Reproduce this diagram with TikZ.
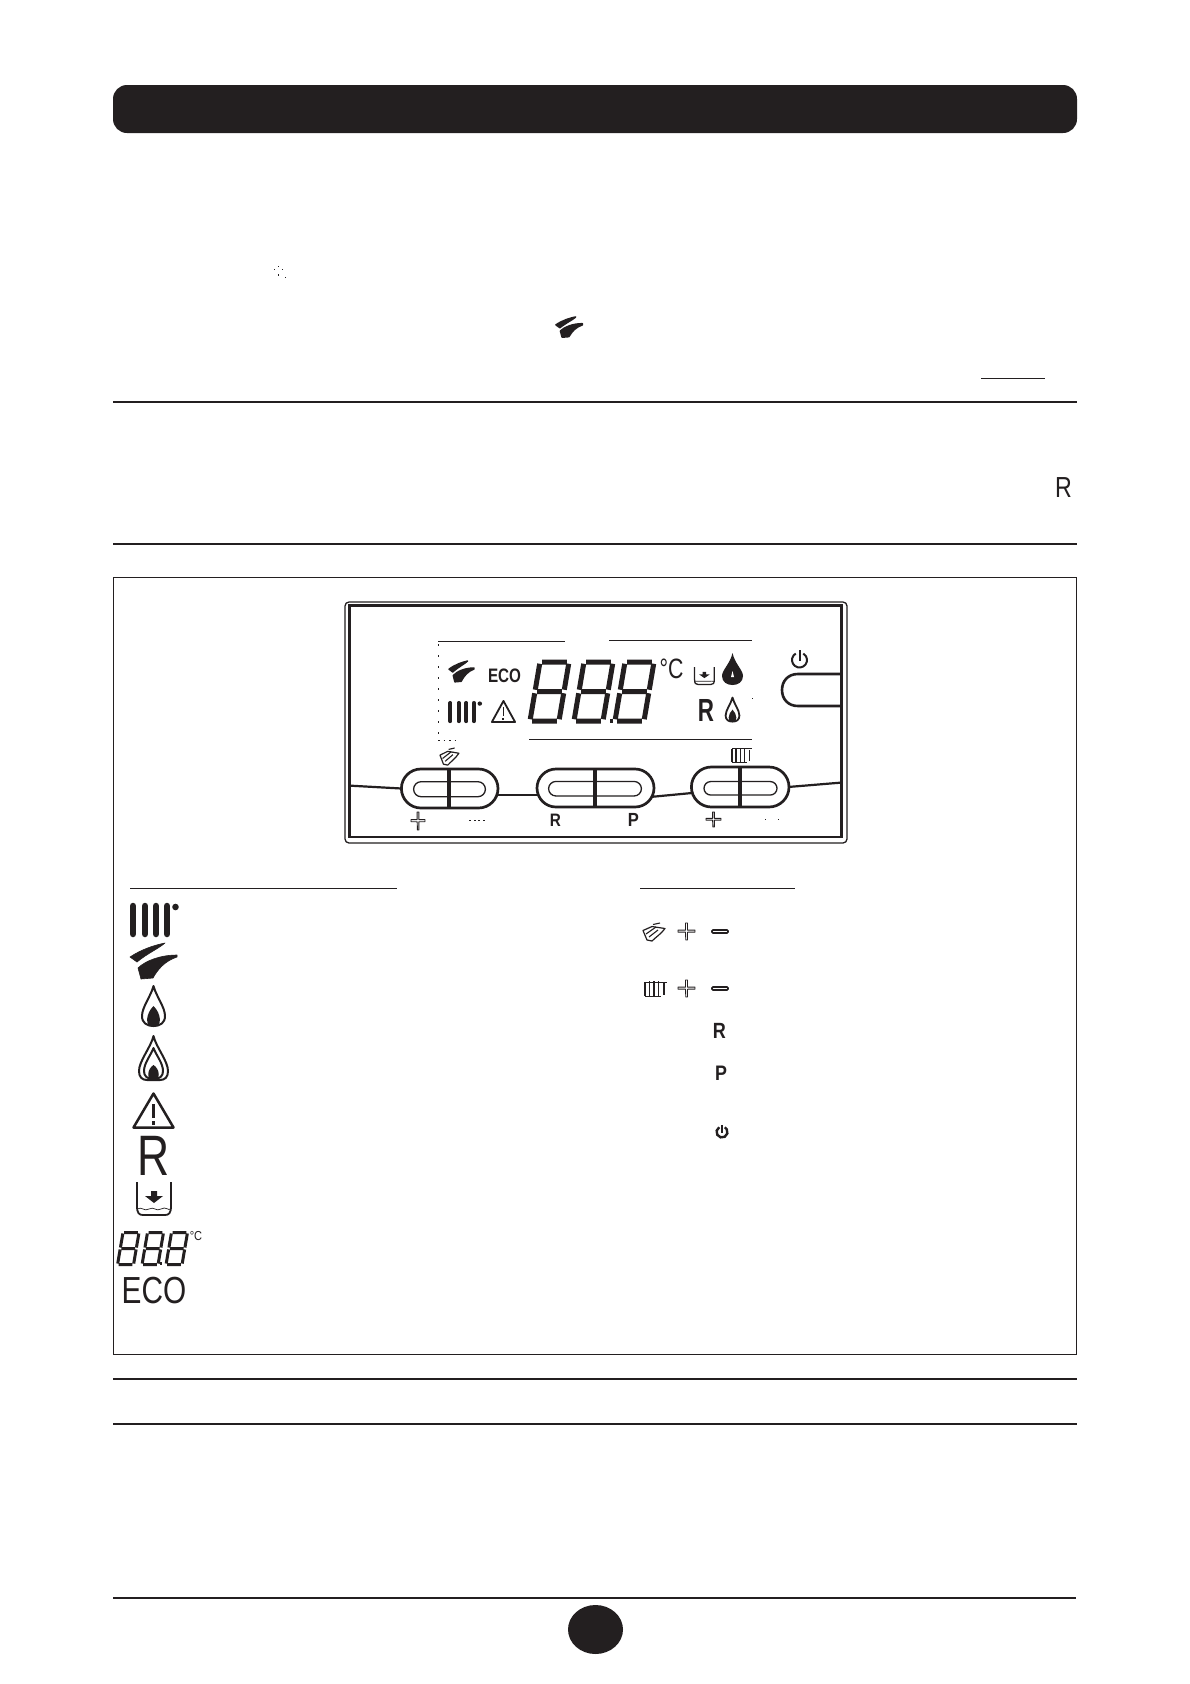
\documentclass[tikz,border=0pt]{standalone}
\usepackage{fontspec}
\setmainfont{Liberation Sans}
\usetikzlibrary{shapes.misc}
\definecolor{ink}{HTML}{231F20}
\newcommand{\fs}[1]{\fontsize{#1}{#1}\selectfont}
\tikzset{
  rule/.style={draw=ink,line width=2.2pt},
  glyph/.style={inner sep=0pt,outer sep=0pt,text=ink},
  rockerout/.style={rounded rectangle,draw=ink,line width=2.7pt,inner sep=0pt,outer sep=0pt},
  rockerin/.style={rounded rectangle,draw=ink,line width=1.3pt,inner sep=0pt,outer sep=0pt},
  wire/.style={draw=ink,line width=2.2pt},
  lcd/.style={draw=ink,line width=1pt},
  seg/.style={draw=ink,line cap=butt},
}
% solid radiator: local box 51x34
\newcommand{\radsolid}[5]{\begin{scope}[shift={(#1,#2)},xscale=#3,yscale=#4]
  \foreach \xx in {5,17,28,39}{\draw[ink,line width=#5,line cap=round] (\xx,3)--(\xx,31);}
  \fill[ink] (47.5,4) ellipse (3.3 and 3.3);
\end{scope}}
% solid tap flame: local box 47x36; last argument thickens it
\newcommand{\tapsolid}[5]{\begin{scope}[shift={(#1,#2)},xscale=#3,yscale=#4]
  \filldraw[ink,line width=#5,line join=round] (0,14) .. controls (12,6) and (25,2) .. (35,0) .. controls (28,6) and (18,10) .. (7,19) -- cycle;
  \filldraw[ink,line width=#5,line join=round] (47,12) .. controls (30,12) and (15,18) .. (8,25) -- (11,36) -- (23,35) .. controls (28,26) and (35,18) .. (47,14) -- cycle;
\end{scope}}
% outline tap: local box 22x18
\newcommand{\tapline}[4]{\begin{scope}[shift={(#1,#2)},xscale=#3,yscale=#4]
  \draw[ink,line width=1.2pt,line join=round] (0,7.5) -- (9,3.5) -- (22,5.5) .. controls (18,11) and (13,14) .. (9,18) -- (4,17) -- cycle;
  \draw[ink,line width=1.1pt] (3,11) -- (13,4) (6,14) -- (15,7) (10,1.5) -- (17,0);
\end{scope}}
% flame 1: local box 25x42
\newcommand{\flameone}[5]{\begin{scope}[shift={(#1,#2)},xscale=#3,yscale=#4]
  \draw[ink,line width=#5,line join=round] (12.5,1) .. controls (10,11) and (1,22) .. (1,31) .. controls (1,38) and (6,41) .. (12.5,41) .. controls (19,41) and (24,38) .. (24,31) .. controls (24,22) and (15,11) .. (12.5,1) -- cycle;
  \fill[ink] (12.5,21) .. controls (5,28) and (3,42) .. (12.5,42) .. controls (22,42) and (20,28) .. (12.5,21) -- cycle;
\end{scope}}
% flame 2: local box 31x46
\newcommand{\flametwo}[5]{\begin{scope}[shift={(#1,#2)},xscale=#3,yscale=#4]
  \draw[ink,line width=#5,line join=round] (15.5,1) .. controls (13,12) and (1,26) .. (1,36) .. controls (1,42) and (4,45) .. (9,45) -- (22,45) .. controls (27,45) and (30,42) .. (30,36) .. controls (30,26) and (18,12) .. (15.5,1) -- cycle;
  \draw[ink,line width=#5,line join=round] (15.5,13) .. controls (13,20) and (6,28) .. (6,36) .. controls (6,41) and (9,44) .. (15.5,44) .. controls (22,44) and (25,41) .. (25,36) .. controls (25,28) and (18,20) .. (15.5,13) -- cycle;
  \fill[ink] (15.5,30) .. controls (9,34) and (8,45) .. (15.5,45) .. controls (23,45) and (22,34) .. (15.5,30) -- cycle;
\end{scope}}
% warning triangle: local box 43x37
\newcommand{\warnicon}[5]{\begin{scope}[shift={(#1,#2)},xscale=#3,yscale=#4]
  \draw[ink,line width=#5,line join=round] (21.5,1.5) -- (1.5,35.5) -- (41.5,35.5) -- cycle;
  \draw[ink,line width=#5] (21.5,12) -- (21.5,26);
  \fill[ink] (19.8,28.5) rectangle (23.2,32.5);
\end{scope}}
% tank with arrow: local box 36x34
\newcommand{\tankicon}[5]{\begin{scope}[shift={(#1,#2)},xscale=#3,yscale=#4]
  \draw[ink,line width=#5] (1,0) -- (1,24) .. controls (1,31) and (3,33) .. (7,33) -- (29,33) .. controls (33,33) and (35,31) .. (35,24) -- (35,0);
  \draw[ink,line width=.7pt] (1,27) .. controls (6,24) and (8,30) .. (13,27) .. controls (18,24) and (20,30) .. (25,27) .. controls (30,24) and (32,29) .. (35,27);
  \fill[ink] (15,9) -- (21,9) -- (21,14) -- (27,14) -- (18,21) -- (9,14) -- (15,14) -- cycle;
\end{scope}}
% seven-segment digit: top-left x, top y, width, height, line width
\newcommand{\segdigit}[5]{\begin{scope}[shift={(#1,#2)},xslant=.17,xscale=#3,yscale=#4]
  \draw[seg,line width=#5] (.07,0)--(.93,0) (.07,.5)--(.93,.5) (.07,1)--(.93,1)
    (0,.03)--(0,.47) (0,.53)--(0,.97) (1,.03)--(1,.47) (1,.53)--(1,.97);
\end{scope}}
% outlined plus: unit box
\newcommand{\plusicon}[4]{\begin{scope}[shift={(#1,#2)},xscale=#3,yscale=#4]
  \draw[ink,line width=.9pt,line join=round] (.44,0) -- (.56,0) -- (.56,.42) -- (1,.42) -- (1,.54) -- (.56,.54) -- (.56,1) -- (.46,1) -- (.44,.54) -- (0,.54) -- (0,.42) -- (.44,.42) -- cycle;
\end{scope}}
% outline radiator: local box 23x16
\newcommand{\radline}[4]{\begin{scope}[shift={(#1,#2)},xscale=#3,yscale=#4]
  \draw[ink,line width=1.3pt] (1,1)--(1,15) (5.5,0)--(5.5,16) (10,0)--(10,16) (14.5,0)--(14.5,16) (20,2)--(20,14);
  \draw[ink,line width=1pt] (1,1)--(23,1) (1,15)--(17,15);
\end{scope}}
\newcommand{\powericon}[4]{
  \draw[ink,line width=#4] (#1,#2) ++(-.5*#3,-.866*#3) arc[start angle=120,end angle=420,radius=#3pt];
  \draw[ink,line width=#4] (#1,#2) ++(0,-1.3*#3) -- ++(0,1.4*#3);}
\begin{document}
\begin{tikzpicture}[x=1pt,y=-1pt]
\useasboundingbox (0,0) rectangle (1190,1684);
\fill[white] (0,0) rectangle (1190,1684);
% header bar
\fill[ink,rounded corners=14pt] (113,85) rectangle (1077,133);
% top-of-page marks
\foreach \px/\py in {278.5/266.7,274.7/269.3,282.3/269.3,278.5/275,285.4/277.7}{\fill[ink] (\px-.7,\py-.7) rectangle (\px+.7,\py+.7);}
\tapsolid{556}{317}{.56}{.56}{1.6pt}
\draw[ink,line width=1pt] (981,378) -- (1045,378);
\draw[rule] (113,402) -- (1077,402);
\node[glyph,font=\fs{29},xscale=.8] (rtop) at (1063.5,487.5) {R};
\draw[rule] (113,544) -- (1077,544);
% main box
\draw[ink,line width=1pt] (113.5,577) rectangle (1076,1354);
% control panel frame
\draw[ink,line width=1.3pt,rounded corners=4pt] (345,602) rectangle (847,843);
\draw[ink,line width=2.8pt] (349.5,605.5) rectangle (841.5,837);
% lcd outline fragments
\draw[lcd] (438,641.7) -- (565,641.7) (609,640.7) -- (752,640.7) (529,739) -- (752,739);
\draw[lcd,dash pattern=on 2pt off 9pt] (438,644) -- (438,735);
\draw[lcd,dash pattern=on 1.5pt off 4pt] (438,740) -- (457,740);
\fill[ink] (751.5,697.5) rectangle (752.7,698.7);
% lcd content
\tapsolid{449}{661}{.53}{.58}{1.4pt}
\node[glyph,font=\bfseries\fs{19.5},xscale=.78] (ecop) at (504.5,676) {ECO};
\radsolid{447}{701}{.69}{.65}{4pt}
\warnicon{491}{700}{.58}{.62}{1.8pt}
\segdigit{540}{662}{29}{59}{5pt}
\segdigit{584}{662}{29}{59}{5pt}
\segdigit{625}{662}{29}{59}{5pt}
\fill[ink] (609.5,719) rectangle (613,723);
\node[glyph,font=\fs{28},xscale=.76] (degp) at (671.5,668.5) {°C};
\tankicon{694}{667}{.58}{.53}{1.3pt}
\node[glyph,font=\bfseries\fs{32},xscale=.7] (rp) at (706,710.5) {R};
% big lcd flame
\fill[ink] (732.5,653) .. controls (730,664) and (722,670) .. (722,676) .. controls (722,682) and (727,685) .. (732.5,685) .. controls (738,685) and (743,682) .. (743,676) .. controls (743,670) and (735,664) .. (732.5,653) -- cycle;
\fill[white] (732.5,671) -- (731,677) -- (734,677) -- cycle;
\flameone{725}{697}{.6}{.6}{1.8pt}
\powericon{799.5}{660}{7.5}{2pt}
% side button
\draw[ink,line width=2.6pt] (840,674) -- (798,674) .. controls (788,674) and (782,681) .. (782,690) .. controls (782,699) and (788,706) .. (798,706) -- (840,706);
% rockers
\node[rockerout,minimum width=96.6pt,minimum height=39pt] (r1o) at (449.7,788.5) {};
\node[rockerin,minimum width=71.8pt,minimum height=15pt] (r1i) at (449.5,789.2) {};
\node[rockerout,minimum width=117pt,minimum height=38pt] (r2o) at (595.5,788) {};
\node[rockerin,minimum width=92.8pt,minimum height=14.5pt] (r2i) at (595,788.7) {};
\node[rockerout,minimum width=97.6pt,minimum height=40pt] (r3o) at (740.2,787) {};
\node[rockerin,minimum width=73pt,minimum height=13.5pt] (r3i) at (740.5,788.3) {};
\draw[ink,line width=3.4pt] (449,769) -- (449,808);
\draw[ink,line width=3.2pt] (595,769) -- (595,807);
\draw[ink,line width=3.4pt] (740,767) -- (740,807);
% rocker connecting wires
\coordinate (wl) at (351,785.7);
\coordinate (w1a) at (497,795);
\coordinate (w2a) at (538,795);
\coordinate (w2b) at (653,796.7);
\coordinate (w3a) at (692,793);
\coordinate (w3b) at (788,787);
\coordinate (wr) at (840,782.7);
\draw[wire] (wl) -- (r1o.west);
\draw[wire] (w1a) -- (w2a);
\draw[wire] (w2b) -- (w3a);
\draw[wire] (w3b) -- (wr);
% rocker labels
\tapline{440}{748}{.86}{.95}
\radline{731}{748}{.92}{.95}
\plusicon{411}{812}{14}{18}
\foreach \px in {469,474,478,483}{\fill[ink] (\px,820) rectangle (\px+2,820.9);}
\node[glyph,font=\bfseries\fs{18},xscale=.85] (rb) at (555.5,820.5) {R};
\node[glyph,font=\bfseries\fs{19},xscale=.87] (pb) at (633.5,820) {P};
\plusicon{706}{812}{15}{15}
\foreach \px in {765,778}{\fill[ink] (\px,818.5) rectangle (\px+1.3,820);}
% legend underlines
\draw[ink,line width=1pt] (130,888) -- (397,888);
\draw[ink,line width=1pt] (640,888) -- (795,888);
% legend left
\radsolid{128}{903}{1}{1}{6.5pt}
\tapsolid{130}{943}{1}{1}{.6pt}
\flameone{141}{985}{1}{1}{2pt}
\flametwo{138}{1035}{1}{1}{2pt}
\warnicon{132}{1092}{1}{1}{2.5pt}
\node[glyph,font=\fs{57},xscale=.78] (rl) at (153.5,1155.5) {R};
\tankicon{136}{1182}{1}{1}{1.8pt}
\segdigit{123}{1232.5}{16}{32}{3pt}
\segdigit{147.5}{1232.5}{16}{32}{3pt}
\segdigit{171.5}{1232.5}{16}{32}{3pt}
\fill[ink] (160,1262) rectangle (162,1265);
\node[glyph,font=\fs{13},xscale=.85] (degl) at (196,1236) {°C};
\node[glyph,font=\fs{37.7},xscale=.79] (ecol) at (154,1290.5) {ECO};
% legend right
\tapline{643}{923}{1}{1}
\plusicon{678}{923}{17}{17}
\draw[ink,line width=1.7pt,rounded corners=1pt] (712,930) rectangle (728,933);
\radline{644}{981}{1}{1}
\plusicon{678}{980}{17}{17}
\draw[ink,line width=1.7pt,rounded corners=1pt] (712,987) rectangle (728,990);
\node[glyph,font=\bfseries\fs{22},xscale=.82] (rr) at (719.5,1031) {R};
\node[glyph,font=\bfseries\fs{21},xscale=.85] (pr) at (721,1073.5) {P};
\powericon{722}{1132}{5.5}{2.4pt}
% lower rules and page number oval
\draw[rule] (113,1379) -- (1077,1379);
\draw[rule] (113,1424) -- (1077,1424);
\draw[ink,line width=1.5pt] (113,1598) -- (1076,1598);
\fill[ink] (595.5,1629.5) ellipse (27.5 and 24.5);
\end{tikzpicture}
\end{document}
